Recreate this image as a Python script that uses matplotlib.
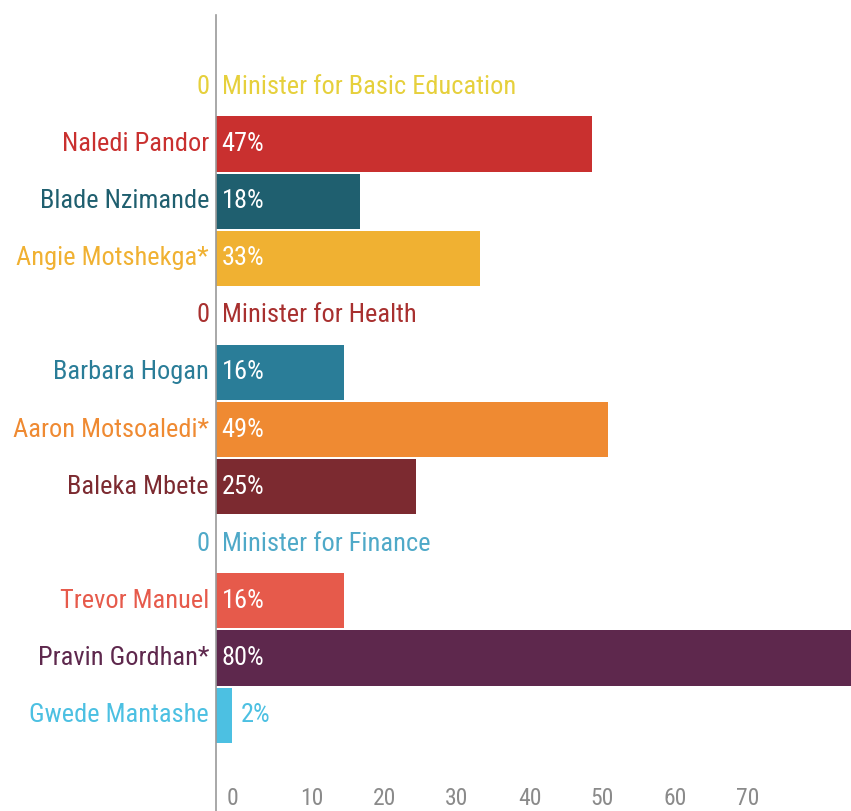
import matplotlib
matplotlib.use("Agg")
import matplotlib.pyplot as plt

# Rows from top to bottom: section headings carry a value of 0
labels = ["Minister for Basic Education", "Naledi Pandor", "Blade Nzimande", "Angie Motshekga*",
          "Minister for Health", "Barbara Hogan", "Aaron Motsoaledi*", "Baleka Mbete",
          "Minister for Finance", "Trevor Manuel", "Pravin Gordhan*", "Gwede Mantashe"]
values = [0, 47, 18, 33, 0, 16, 49, 25, 0, 16, 80, 2]
colors = ["#e6d03c", "#c9302f", "#1f5f6f", "#f0b132",
          "#a8302f", "#2a7d98", "#ef8a32", "#7c2a30",
          "#4fa9c8", "#e65a4b", "#5e284d", "#4cc0e2"]
axis_ticks = [0, 10, 20, 30, 40, 50, 60, 70]

plt.rcParams['font.family'] = ['Roboto Condensed', 'Roboto', 'DejaVu Sans']
FS = 19

W, H = 851, 811
fig = plt.figure(figsize=(W / 100, H / 100), dpi=100)
ax = fig.add_axes([216 / W, 0, (W - 216) / W, (H - 15) / H])

rows = list(range(len(labels)))
ax.barh(rows, values, height=0.965, color=colors, clip_on=True)
ax.set_xlim(0, (W - 216) / 8)
ax.set_ylim(12.68, -1.26)

for i, (lab, v, c) in enumerate(zip(labels, values, colors)):
    if v == 0:
        # section heading: "0" on the left, title next to the axis
        ax.annotate("0", (0, i), xytext=(-5, 0), textcoords="offset points",
                    ha="right", va="center", fontsize=FS, color=c)
        ax.annotate(lab, (0, i), xytext=(4, 0), textcoords="offset points",
                    ha="left", va="center", fontsize=FS, color=c)
        continue
    ax.annotate(lab, (0, i), xytext=(-5, 0), textcoords="offset points",
                ha="right", va="center", fontsize=FS, color=c)
    if v * 8 > 45:
        ax.annotate(f"{v}%", (0, i), xytext=(4, 0), textcoords="offset points",
                    ha="left", va="center", fontsize=FS, color="white")
    else:
        ax.annotate(f"{v}%", (v, i), xytext=(6, 0), textcoords="offset points",
                    ha="left", va="center", fontsize=FS, color=c)

for s in ["top", "right", "bottom"]:
    ax.spines[s].set_visible(False)
ax.spines["left"].set_color("#9a9a9a")
ax.spines["left"].set_linewidth(1.2)
ax.set_xticks([])
ax.set_yticks([])

# value scale printed along the bottom
sec = ax.secondary_xaxis(0.034, functions=(lambda v: (8 * v - 11) / 7.27,
                                           lambda t: (7.27 * t + 11) / 8))
sec.set_xticks(axis_ticks)
sec.spines["bottom"].set_visible(False)
sec.tick_params(length=0, pad=2, labelsize=17, labelcolor="#8a8a8a")
plt.setp(sec.get_xticklabels(), ha="left")

fig.savefig("out.png", dpi=100)
